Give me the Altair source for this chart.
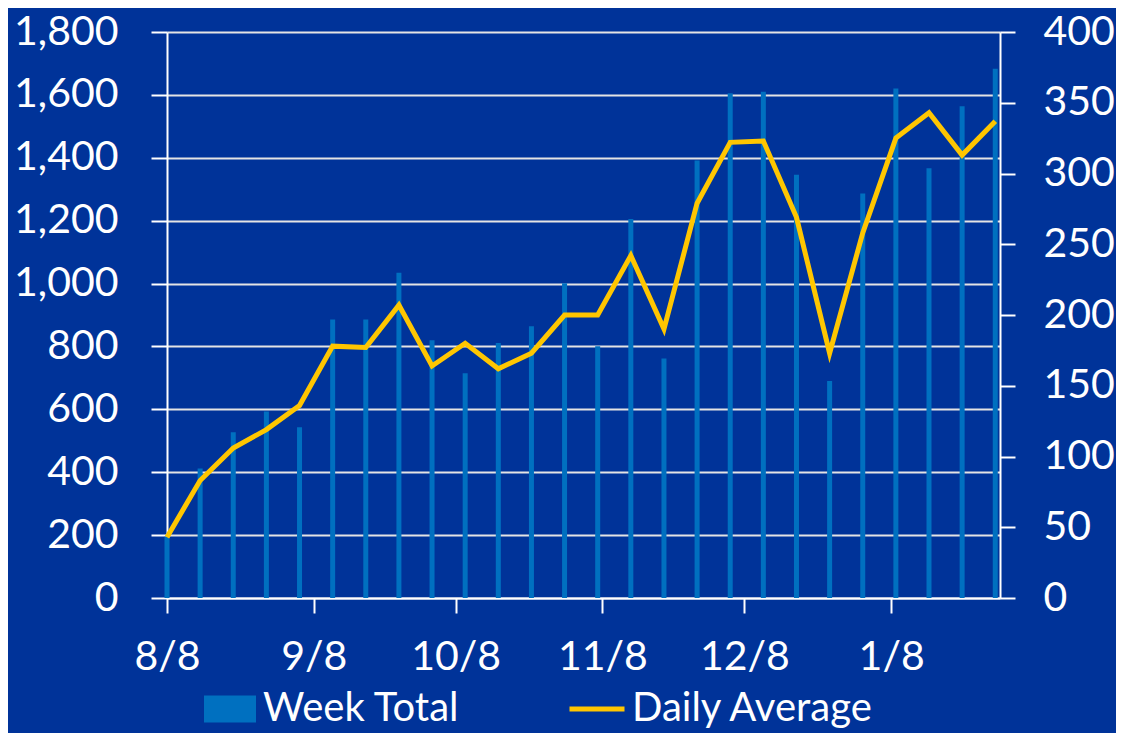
import altair as alt
import pandas as pd

dates = [
    "2009-08-08", "2009-08-15", "2009-08-22", "2009-08-29", "2009-09-05",
    "2009-09-12", "2009-09-19", "2009-09-26", "2009-10-03", "2009-10-10",
    "2009-10-17", "2009-10-24", "2009-10-31", "2009-11-07", "2009-11-14",
    "2009-11-21", "2009-11-28", "2009-12-05", "2009-12-12", "2009-12-19",
    "2009-12-26", "2010-01-02", "2010-01-09", "2010-01-16", "2010-01-23",
    "2010-01-30",
]
week_total = [195, 412, 527, 593, 543, 886, 886, 1034, 820, 715, 811, 864, 1001,
              801, 1205, 762, 1391, 1605, 1610, 1346, 690, 1286, 1620, 1367, 1564, 1683]
daily_average = [43, 83, 106, 119, 136, 178, 177, 207, 164, 180, 162, 173, 200,
                 200, 242, 190, 279, 322, 323, 269, 173, 258, 325, 343, 313, 337]

left_ticks = [0, 200, 400, 600, 800, 1000, 1200, 1400, 1600, 1800]
right_ticks = [0, 50, 100, 150, 200, 250, 300, 350, 400]
x_ticks = ["2009-08-08", "2009-09-08", "2009-10-08", "2009-11-08", "2009-12-08", "2010-01-08"]
bar_name = "Week Total"
line_name = "Daily Average"
bar_color = "#0070C0"
line_color = "#FFC600"

df = pd.DataFrame({
    "date": [d + "T00:00:00" for d in dates],
    "week_total": week_total,
    "daily_average": daily_average,
})

FONT = "Lato"
FS = 41

x_enc = alt.X(
    "date:T",
    scale=alt.Scale(domain=[alt.DateTime(year=2009, month=8, date=8),
                            alt.DateTime(year=2010, month=1, date=31)], padding=0),
    axis=alt.Axis(
        values=[alt.DateTime(year=int(s[:4]), month=int(s[5:7]), date=int(s[8:10])) for s in x_ticks],
        format="%-m/%-d", title=None, grid=False, labelFlush=False,
        domainColor="white", domainWidth=2, tickColor="white", tickWidth=2, tickSize=15,
        labelFont=FONT, labelFontSize=FS, labelColor="white", labelPadding=24,
    ),
)

bar_legend = alt.Legend(
    orient="none", legendX=37, legendY=651, title=None,
    symbolType="M-1,-0.52H1V0.52H-1Z", symbolSize=2704, symbolStrokeWidth=0,
    labelFont=FONT, labelFontSize=40, labelColor="white", labelOffset=7, labelLimit=400,
)
line_legend = alt.Legend(
    orient="none", legendX=400, legendY=647, title=None,
    symbolType="M-1,0H1", symbolSize=3025, symbolStrokeWidth=5,
    labelFont=FONT, labelFontSize=40, labelColor="white", labelOffset=5, labelLimit=400,
)

bars = alt.Chart(df).transform_calculate(series="'" + bar_name + "'").mark_bar(size=5).encode(
    x=x_enc,
    y=alt.Y("week_total:Q", scale=alt.Scale(domain=[0, 1800], nice=False),
            axis=alt.Axis(orient="left", values=left_ticks, format=",.0f", title=None,
                          grid=True, gridColor="#e4e4e4", gridWidth=2,
                          domainColor="white", domainWidth=2, tickColor="white",
                          tickWidth=2, tickSize=16, labelFont=FONT, labelFontSize=FS,
                          labelColor="white", labelPadding=33)),
    fill=alt.Fill("series:N", scale=alt.Scale(domain=[bar_name], range=[bar_color]),
                  legend=bar_legend),
)

line = alt.Chart(df).transform_calculate(series="'" + line_name + "'").mark_line(strokeWidth=5).encode(
    x=x_enc,
    y=alt.Y("daily_average:Q", scale=alt.Scale(domain=[0, 400], nice=False),
            axis=alt.Axis(orient="right", values=right_ticks, title=None, grid=False,
                          domainColor="white", domainWidth=2, tickColor="white",
                          tickWidth=2, tickSize=15, labelFont=FONT, labelFontSize=FS,
                          labelColor="white", labelPadding=28)),
    stroke=alt.Stroke("series:N", scale=alt.Scale(domain=[line_name], range=[line_color]),
                      legend=line_legend),
)

chart = alt.layer(bars, line).resolve_scale(y="independent").properties(
    width=833, height=566,
    autosize=alt.AutoSizeParams(type="none"),
    padding={"left": 159, "top": 24, "right": 116, "bottom": 135},
    background="#003399",
).configure_view(stroke=None)

chart.save("out.html", embed_options={"renderer": "svg", "actions": False})
